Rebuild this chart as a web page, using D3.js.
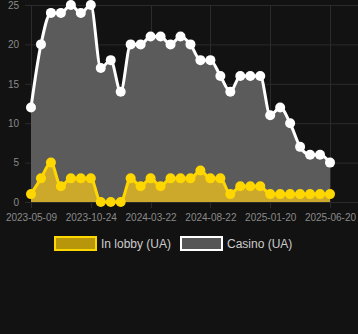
<!DOCTYPE html>
<html>
<head>
<meta charset="utf-8">
<script src="https://cdn.jsdelivr.net/npm/d3@7"></script>
<style>
  body { margin: 0; background: #121212; }
  svg { display: block; font-family: "Liberation Sans", Arial, sans-serif; }
</style>
</head>
<body>
<div id="chart"></div>
<script>
// values, one per sample
const casino = [12, 20, 24, 24, 25, 24, 25, 17, 18, 14, 20, 20, 21, 21, 20, 21, 20, 18, 18, 16,
  14, 16, 16, 16, 11, 12, 10, 7, 6, 6, 5];
const lobby = [1, 3, 5, 2, 3, 3, 3, 0, 0, 0, 3, 2, 3, 2, 3, 3, 3, 4, 3, 3,
  1, 2, 2, 2, 1, 1, 1, 1, 1, 1, 1];
const tickIndex = [0, 6, 12, 18, 24, 30];
const tickLabels = ["2023-05-09", "2023-10-24", "2024-03-22", "2024-08-22", "2025-01-20", "2025-06-20"];
const yTicks = [0, 5, 10, 15, 20, 25];
const seriesNames = ["In lobby (UA)", "Casino (UA)"];

const width = 358;
const height = 334;

const x = d3.scaleLinear()
  .domain([0, casino.length - 1])
  .range([31, 330]);

const y = d3.scaleLinear()
  .domain([0, 25])
  .range([202, 5]);

const svg = d3.select("#chart")
  .append("svg")
  .attr("width", width)
  .attr("height", height);

svg.append("rect")
  .attr("width", width)
  .attr("height", height)
  .attr("fill", "#121212");

// grid
svg.append("g")
  .selectAll("line")
  .data(yTicks)
  .enter().append("line")
  .attr("x1", 25).attr("x2", width)
  .attr("y1", d => y(d) + 0.5).attr("y2", d => y(d) + 0.5)
  .attr("stroke", "#2b2b2b");

svg.append("g")
  .selectAll("line")
  .data(tickIndex)
  .enter().append("line")
  .attr("x1", d => Math.round(x(d)) + 0.5).attr("x2", d => Math.round(x(d)) + 0.5)
  .attr("y1", 5).attr("y2", 208)
  .attr("stroke", "#2b2b2b");

// axis labels
const xAxis = d3.axisBottom(x)
  .tickValues(tickIndex)
  .tickFormat((d, i) => tickLabels[i])
  .tickSize(0)
  .tickPadding(10);

svg.append("g")
  .attr("transform", "translate(0,204)")
  .call(xAxis)
  .call(g => g.select(".domain").remove())
  .selectAll("text")
  .attr("fill", "#8a8a8a")
  .style("font-size", "10px");

const yAxis = d3.axisLeft(y)
  .tickValues(yTicks)
  .tickSize(0)
  .tickPadding(0);

svg.append("g")
  .attr("transform", "translate(19,0)")
  .call(yAxis)
  .call(g => g.select(".domain").remove())
  .selectAll("text")
  .attr("fill", "#8a8a8a")
  .style("font-size", "10px");

const curve = d3.curveMonotoneX;

function drawSeries(values, fill, stroke) {
  const area = d3.area()
    .x((d, i) => x(i))
    .y0(y(0))
    .y1(d => y(d))
    .curve(curve);
  const line = d3.line()
    .x((d, i) => x(i))
    .y(d => y(d))
    .curve(curve);

  svg.append("path")
    .datum(values)
    .attr("d", area)
    .attr("fill", fill);

  svg.append("path")
    .datum(values)
    .attr("d", line)
    .attr("fill", "none")
    .attr("stroke", stroke)
    .attr("stroke-width", 3);
}

drawSeries(casino, "#5b5b5b", "#ffffff");
drawSeries(lobby, "#cca92a", "#ffd700");

svg.append("g")
  .selectAll("circle")
  .data(casino)
  .enter().append("circle")
  .attr("cx", (d, i) => x(i))
  .attr("cy", d => y(d))
  .attr("r", 5)
  .attr("fill", "#ffffff");

svg.append("g")
  .selectAll("circle")
  .data(lobby)
  .enter().append("circle")
  .attr("cx", (d, i) => x(i))
  .attr("cy", d => y(d))
  .attr("r", 5)
  .attr("fill", "#ffd700");

// legend
const legend = [
  { name: seriesNames[0], fill: "#b8960c", stroke: "#ffd700", x: 55, tx: 101 },
  { name: seriesNames[1], fill: "#555555", stroke: "#ffffff", x: 181, tx: 227 }
];

const lg = svg.append("g")
  .selectAll("g")
  .data(legend)
  .enter().append("g");

lg.append("rect")
  .attr("x", d => d.x)
  .attr("y", 237)
  .attr("width", 41)
  .attr("height", 13)
  .attr("fill", d => d.fill)
  .attr("stroke", d => d.stroke)
  .attr("stroke-width", 2);

lg.append("text")
  .attr("x", d => d.tx)
  .attr("y", 248)
  .attr("fill", "#cccccc")
  .style("font-size", "12px")
  .text(d => d.name);
</script>
</body>
</html>
